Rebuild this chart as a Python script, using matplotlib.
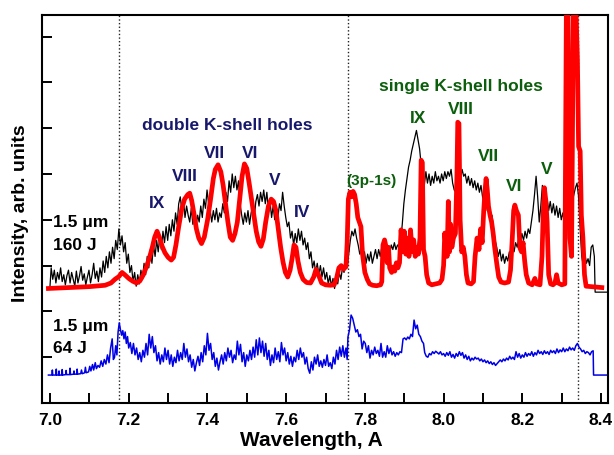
import numpy as np
import matplotlib
matplotlib.use("Agg")
import matplotlib.pyplot as plt
from matplotlib.ticker import MultipleLocator, NullFormatter

plt.rcParams["font.family"] = ["Liberation Sans", "DejaVu Sans"]
plt.rcParams["font.weight"] = "bold"

# ---- data (wavelength in A, intensity in arb. units) ----
# 160 J shot, measured spectrum (thin black)
BLACK_160J = [
    (7.000, 2.55), (7.003, 2.95), (7.007, 2.70), (7.011, 2.90), (7.015, 2.62), (7.019, 2.85),
    (7.023, 2.70), (7.027, 2.95), (7.031, 2.65), (7.035, 2.80), (7.039, 2.58), (7.043, 2.78),
    (7.047, 2.90), (7.051, 2.62), (7.055, 2.85), (7.059, 2.70), (7.063, 2.55), (7.067, 2.88),
    (7.071, 2.62), (7.075, 2.78), (7.079, 2.98), (7.083, 2.68), (7.087, 2.82), (7.091, 2.58),
    (7.095, 2.75), (7.099, 2.90), (7.103, 2.62), (7.107, 2.80), (7.111, 3.05), (7.115, 2.72),
    (7.119, 2.88), (7.123, 2.65), (7.127, 2.95), (7.131, 2.75), (7.135, 3.10), (7.139, 2.85),
    (7.143, 3.20), (7.147, 2.95), (7.151, 3.30), (7.155, 3.05), (7.159, 3.40), (7.163, 3.15),
    (7.167, 3.55), (7.171, 3.35), (7.175, 3.80), (7.179, 3.45), (7.183, 3.65), (7.187, 3.30),
    (7.191, 3.50), (7.195, 3.05), (7.199, 3.25), (7.203, 2.85), (7.207, 3.00), (7.211, 2.65),
    (7.215, 2.85), (7.219, 2.55), (7.223, 2.80), (7.227, 2.60), (7.231, 2.90), (7.235, 2.70),
    (7.239, 3.05), (7.243, 2.80), (7.247, 3.20), (7.251, 2.95), (7.255, 3.35), (7.259, 3.05),
    (7.263, 3.45), (7.267, 3.20), (7.271, 3.55), (7.275, 3.30), (7.279, 3.65), (7.283, 3.35),
    (7.287, 3.75), (7.291, 3.50), (7.295, 3.85), (7.299, 3.55), (7.303, 3.90), (7.307, 3.65),
    (7.311, 4.00), (7.315, 3.75), (7.319, 4.15), (7.323, 3.90), (7.327, 4.35), (7.331, 4.50),
    (7.335, 4.20), (7.339, 4.45), (7.343, 4.05), (7.347, 4.30), (7.351, 4.10), (7.355, 3.95),
    (7.359, 4.25), (7.363, 3.90), (7.367, 4.15), (7.371, 3.85), (7.375, 4.10), (7.379, 3.95),
    (7.383, 4.30), (7.387, 4.05), (7.391, 4.45), (7.395, 4.25), (7.399, 4.65), (7.403, 4.35),
    (7.407, 4.20), (7.411, 3.95), (7.415, 4.20), (7.419, 4.00), (7.423, 4.25), (7.427, 3.95),
    (7.431, 4.15), (7.435, 4.05), (7.439, 4.35), (7.443, 4.15), (7.447, 4.60), (7.451, 4.40),
    (7.455, 4.85), (7.459, 4.60), (7.463, 5.00), (7.467, 4.70), (7.471, 4.95), (7.475, 4.65),
    (7.479, 4.85), (7.483, 4.35), (7.487, 4.10), (7.491, 3.90), (7.495, 4.15), (7.499, 3.95),
    (7.503, 4.20), (7.507, 3.90), (7.511, 4.15), (7.515, 4.30), (7.519, 4.05), (7.523, 4.40),
    (7.527, 4.55), (7.531, 4.30), (7.535, 4.60), (7.539, 4.40), (7.543, 4.65), (7.547, 4.35),
    (7.551, 4.60), (7.555, 4.20), (7.559, 4.40), (7.563, 4.05), (7.567, 4.30), (7.571, 4.00),
    (7.575, 4.25), (7.579, 4.05), (7.583, 4.35), (7.587, 4.20), (7.591, 4.60), (7.595, 4.30),
    (7.599, 4.05), (7.603, 3.85), (7.607, 3.95), (7.611, 3.60), (7.615, 3.75), (7.619, 3.45),
    (7.623, 3.70), (7.627, 3.50), (7.631, 3.80), (7.635, 3.55), (7.639, 3.75), (7.643, 3.45),
    (7.647, 3.60), (7.651, 3.35), (7.655, 3.50), (7.659, 3.15), (7.663, 3.30), (7.667, 2.95),
    (7.671, 3.10), (7.675, 2.85), (7.679, 3.05), (7.683, 2.80), (7.687, 3.00), (7.691, 2.75),
    (7.695, 2.95), (7.699, 2.70), (7.703, 2.85), (7.707, 2.60), (7.711, 2.78), (7.715, 2.55),
    (7.719, 2.72), (7.723, 2.50), (7.727, 2.70), (7.731, 2.60), (7.735, 2.85), (7.739, 2.70),
    (7.743, 2.95), (7.747, 2.85), (7.751, 3.10), (7.755, 2.95), (7.759, 3.25), (7.763, 3.55),
    (7.767, 3.75), (7.771, 3.65), (7.775, 3.80), (7.779, 3.60), (7.783, 3.45), (7.787, 3.25),
    (7.791, 3.35), (7.795, 3.15), (7.799, 3.30), (7.803, 3.05), (7.807, 3.25), (7.811, 3.10),
    (7.815, 3.30), (7.819, 3.05), (7.823, 3.20), (7.827, 3.35), (7.831, 3.15), (7.835, 3.35),
    (7.839, 3.20), (7.843, 3.40), (7.847, 3.25), (7.851, 3.45), (7.855, 3.30), (7.859, 3.40),
    (7.863, 3.25), (7.867, 3.45), (7.871, 3.35), (7.875, 3.50), (7.879, 3.35), (7.883, 3.45),
    (7.887, 3.40), (7.891, 3.55), (7.895, 3.90), (7.899, 4.35), (7.903, 4.65), (7.907, 4.90),
    (7.911, 5.15), (7.915, 5.30), (7.919, 5.50), (7.923, 5.65), (7.927, 5.80), (7.931, 5.95),
    (7.935, 5.75), (7.939, 5.55), (7.943, 5.20), (7.947, 4.85), (7.951, 4.75), (7.955, 5.05),
    (7.959, 4.80), (7.963, 5.00), (7.967, 4.75), (7.971, 4.95), (7.975, 4.80), (7.979, 5.05),
    (7.983, 4.85), (7.987, 4.95), (7.991, 4.80), (7.995, 5.00), (7.999, 4.85), (8.003, 5.05),
    (8.007, 4.90), (8.011, 5.05), (8.015, 4.95), (8.019, 5.10), (8.023, 4.80), (8.027, 4.65),
    (8.031, 4.60), (8.035, 4.85), (8.039, 5.05), (8.043, 4.90), (8.047, 5.10), (8.051, 4.95),
    (8.055, 5.00), (8.059, 4.80), (8.063, 4.95), (8.067, 4.75), (8.071, 4.90), (8.075, 4.70),
    (8.079, 4.85), (8.083, 4.65), (8.087, 4.80), (8.091, 4.60), (8.095, 4.75), (8.099, 4.50),
    (8.103, 4.35), (8.107, 4.45), (8.111, 4.20), (8.115, 4.30), (8.119, 4.05), (8.123, 4.10),
    (8.127, 3.80), (8.131, 3.55), (8.135, 3.40), (8.139, 3.20), (8.143, 3.35), (8.147, 3.10),
    (8.151, 3.25), (8.155, 3.05), (8.159, 3.20), (8.163, 3.10), (8.167, 3.30), (8.171, 3.20),
    (8.175, 3.40), (8.179, 3.30), (8.183, 3.50), (8.187, 3.40), (8.191, 3.60), (8.195, 3.50),
    (8.199, 3.70), (8.203, 3.55), (8.207, 3.75), (8.211, 3.60), (8.215, 3.80), (8.219, 3.70),
    (8.223, 3.95), (8.227, 4.20), (8.231, 4.55), (8.235, 4.95), (8.239, 4.50), (8.243, 3.95),
    (8.247, 4.30), (8.251, 4.75), (8.255, 4.50), (8.259, 4.30), (8.263, 4.45), (8.267, 4.20),
    (8.271, 4.40), (8.275, 4.15), (8.279, 4.35), (8.283, 4.10), (8.287, 4.30), (8.291, 4.05),
    (8.295, 4.25), (8.299, 4.00), (8.303, 4.15), (8.307, 3.95), (8.311, 4.10), (8.315, 3.95),
    (8.319, 4.45), (8.323, 4.55), (8.327, 4.40), (8.331, 4.55), (8.335, 4.70), (8.339, 4.80),
    (8.343, 4.50), (8.347, 3.80), (8.351, 3.20), (8.355, 3.00), (8.359, 3.25), (8.363, 3.05),
    (8.367, 3.15), (8.371, 3.00), (8.375, 3.40), (8.379, 3.45), (8.383, 3.20), (8.385, 2.42),
    (8.418, 2.42),
]

# 160 J shot, simulated spectrum (thick red)
RED_160J = [
    (6.996, 2.50), (7.050, 2.52), (7.100, 2.54), (7.140, 2.57), (7.155, 2.62), (7.165, 2.70),
    (7.175, 2.76), (7.183, 2.85), (7.190, 2.80), (7.200, 2.72), (7.210, 2.66), (7.220, 2.62),
    (7.228, 2.66), (7.236, 2.78), (7.244, 2.95), (7.252, 3.15), (7.260, 3.40), (7.266, 3.62),
    (7.272, 3.75), (7.278, 3.62), (7.285, 3.42), (7.292, 3.28), (7.300, 3.18), (7.308, 3.12),
    (7.314, 3.18), (7.320, 3.45), (7.327, 3.85), (7.335, 4.25), (7.342, 4.45), (7.350, 4.55),
    (7.355, 4.58), (7.360, 4.42), (7.366, 4.12), (7.372, 3.80), (7.378, 3.60), (7.385, 3.48),
    (7.392, 3.62), (7.400, 3.98), (7.408, 4.45), (7.415, 4.90), (7.420, 5.10), (7.427, 5.20),
    (7.434, 5.05), (7.440, 4.75), (7.446, 4.35), (7.452, 3.95), (7.458, 3.62), (7.464, 3.55),
    (7.470, 3.70), (7.476, 3.95), (7.482, 4.45), (7.488, 4.95), (7.494, 5.22), (7.500, 5.12),
    (7.506, 4.80), (7.512, 4.45), (7.518, 4.10), (7.524, 3.75), (7.530, 3.52), (7.536, 3.42),
    (7.542, 3.58), (7.548, 3.95), (7.555, 4.30), (7.562, 4.45), (7.568, 4.40), (7.574, 4.20),
    (7.580, 3.80), (7.586, 3.40), (7.592, 3.08), (7.598, 2.85), (7.604, 2.75), (7.610, 2.90),
    (7.615, 3.15), (7.620, 3.45), (7.625, 3.40), (7.630, 3.10), (7.636, 2.85), (7.643, 2.70),
    (7.652, 2.63), (7.662, 2.62), (7.670, 2.75), (7.676, 2.92), (7.682, 2.80), (7.690, 2.62),
    (7.700, 2.58), (7.712, 2.57), (7.722, 2.58), (7.728, 2.72), (7.734, 2.95), (7.740, 3.00),
    (7.746, 2.92), (7.752, 2.98), (7.755, 3.50), (7.758, 4.45), (7.762, 4.60), (7.766, 4.50),
    (7.770, 4.62), (7.774, 4.55), (7.778, 4.35), (7.782, 4.05), (7.786, 3.95), (7.790, 3.85),
    (7.794, 3.25), (7.800, 2.85), (7.806, 2.70), (7.812, 2.60), (7.820, 2.57), (7.830, 2.56),
    (7.840, 2.58), (7.843, 2.65), (7.846, 3.45), (7.850, 3.56), (7.854, 3.40), (7.857, 3.06),
    (7.860, 3.40), (7.863, 2.95), (7.868, 2.85), (7.872, 2.97), (7.876, 2.88), (7.880, 3.06),
    (7.884, 2.95), (7.888, 3.06), (7.892, 3.78), (7.896, 3.30), (7.900, 3.75), (7.904, 3.25),
    (7.908, 3.60), (7.912, 3.20), (7.916, 3.78), (7.920, 3.30), (7.924, 3.56), (7.928, 3.20),
    (7.932, 3.40), (7.936, 3.25), (7.940, 3.60), (7.943, 5.30), (7.946, 5.25), (7.949, 3.35),
    (7.953, 3.20), (7.957, 2.80), (7.962, 2.62), (7.970, 2.58), (7.980, 2.60), (7.990, 2.62),
    (7.996, 2.70), (8.000, 3.00), (8.003, 3.71), (8.006, 3.40), (8.009, 3.20), (8.012, 4.40),
    (8.015, 3.30), (8.018, 3.90), (8.021, 3.40), (8.025, 3.60), (8.030, 3.70), (8.034, 5.00),
    (8.036, 6.13), (8.039, 6.10), (8.042, 4.00), (8.046, 3.30), (8.050, 3.40), (8.054, 3.20),
    (8.058, 2.80), (8.062, 2.62), (8.070, 2.60), (8.076, 2.65), (8.080, 3.20), (8.085, 3.60),
    (8.090, 3.35), (8.094, 3.80), (8.098, 3.50), (8.102, 4.20), (8.105, 4.60), (8.108, 4.90),
    (8.111, 4.65), (8.114, 4.30), (8.118, 4.10), (8.122, 3.95), (8.126, 3.70), (8.130, 3.38),
    (8.135, 3.05), (8.140, 2.75), (8.146, 2.64), (8.155, 2.62), (8.165, 2.64), (8.170, 2.90),
    (8.174, 3.51), (8.178, 4.20), (8.181, 4.32), (8.185, 4.20), (8.190, 4.10), (8.194, 3.38),
    (8.198, 3.30), (8.202, 3.50), (8.206, 3.10), (8.210, 2.80), (8.216, 2.62), (8.225, 2.58),
    (8.232, 2.72), (8.236, 2.60), (8.245, 2.58), (8.250, 3.20), (8.253, 4.10), (8.256, 4.70),
    (8.260, 4.40), (8.263, 3.95), (8.267, 2.80), (8.272, 2.60), (8.278, 2.58), (8.283, 2.62),
    (8.287, 2.80), (8.291, 2.62), (8.300, 2.58), (8.308, 2.60), (8.312, 8.70), (8.316, 8.70),
    (8.321, 3.60), (8.325, 3.20), (8.330, 8.70), (8.336, 8.70), (8.340, 7.50), (8.343, 5.60),
    (8.347, 5.50), (8.350, 4.10), (8.354, 3.60), (8.358, 2.80), (8.362, 2.55), (8.402, 2.52),
]

# 64 J shot, measured spectrum (blue)
BLUE_64J = [
    (6.996, 0.61), (7.005, 0.61), (7.006, 0.72), (7.007, 0.61), (7.015, 0.61), (7.016, 0.74),
    (7.017, 0.61), (7.022, 0.61), (7.023, 0.70), (7.024, 0.61), (7.030, 0.61), (7.031, 0.73),
    (7.032, 0.61), (7.040, 0.62), (7.041, 0.71), (7.042, 0.62), (7.050, 0.62), (7.051, 0.76),
    (7.052, 0.62), (7.060, 0.63), (7.061, 0.70), (7.062, 0.63), (7.068, 0.63), (7.069, 0.74),
    (7.070, 0.63), (7.078, 0.64), (7.080, 0.72), (7.082, 0.64), (7.088, 0.66), (7.090, 0.78),
    (7.092, 0.66), (7.098, 0.68), (7.101, 0.80), (7.104, 0.70), (7.108, 0.84), (7.111, 0.72),
    (7.115, 0.88), (7.118, 0.75), (7.122, 0.82), (7.126, 0.78), (7.130, 0.92), (7.134, 0.80),
    (7.138, 0.95), (7.142, 0.85), (7.146, 1.05), (7.150, 0.88), (7.154, 1.20), (7.158, 1.40),
    (7.161, 0.95), (7.164, 1.00), (7.167, 1.25), (7.170, 1.05), (7.173, 1.55), (7.176, 1.75),
    (7.179, 1.60), (7.182, 1.48), (7.185, 1.58), (7.188, 1.40), (7.191, 1.55), (7.194, 1.30),
    (7.197, 1.45), (7.200, 1.20), (7.204, 1.32), (7.208, 1.08), (7.212, 1.30), (7.216, 1.05),
    (7.220, 1.20), (7.224, 0.95), (7.228, 1.10), (7.232, 0.90), (7.236, 1.15), (7.240, 1.00),
    (7.244, 1.30), (7.248, 1.05), (7.252, 1.50), (7.256, 1.20), (7.260, 1.45), (7.264, 1.10),
    (7.268, 1.25), (7.272, 0.92), (7.276, 1.10), (7.280, 0.85), (7.284, 1.05), (7.288, 0.90),
    (7.292, 1.20), (7.296, 0.95), (7.300, 1.15), (7.304, 0.85), (7.308, 1.05), (7.312, 0.80),
    (7.316, 1.00), (7.320, 0.88), (7.324, 1.15), (7.328, 0.92), (7.332, 1.10), (7.336, 0.95),
    (7.340, 1.30), (7.344, 1.00), (7.348, 1.18), (7.352, 0.90), (7.356, 1.05), (7.360, 0.78),
    (7.364, 0.95), (7.368, 0.70), (7.372, 0.88), (7.376, 1.02), (7.380, 0.82), (7.384, 1.10),
    (7.388, 0.90), (7.392, 1.25), (7.396, 1.05), (7.400, 1.52), (7.404, 1.15), (7.408, 1.30),
    (7.412, 0.95), (7.416, 1.10), (7.420, 0.80), (7.424, 0.98), (7.428, 0.72), (7.432, 0.90),
    (7.436, 1.05), (7.440, 0.85), (7.444, 1.10), (7.448, 0.92), (7.452, 1.20), (7.456, 1.00),
    (7.460, 1.15), (7.464, 0.88), (7.468, 1.05), (7.472, 0.95), (7.476, 1.35), (7.480, 1.05),
    (7.484, 1.28), (7.488, 0.90), (7.492, 1.10), (7.496, 0.80), (7.500, 1.05), (7.504, 0.92),
    (7.508, 1.15), (7.512, 0.95), (7.516, 1.22), (7.520, 1.00), (7.524, 1.38), (7.528, 1.05),
    (7.532, 1.42), (7.536, 1.10), (7.540, 1.35), (7.544, 1.02), (7.548, 1.30), (7.552, 0.95),
    (7.556, 1.15), (7.560, 0.82), (7.564, 1.05), (7.568, 0.88), (7.572, 1.20), (7.576, 0.95),
    (7.580, 1.12), (7.584, 0.90), (7.588, 1.32), (7.592, 1.05), (7.596, 1.20), (7.600, 0.92),
    (7.604, 1.10), (7.608, 0.85), (7.612, 1.02), (7.616, 0.80), (7.620, 1.00), (7.624, 0.90),
    (7.628, 1.15), (7.632, 0.95), (7.636, 1.20), (7.640, 1.00), (7.644, 1.10), (7.648, 0.85),
    (7.652, 1.00), (7.656, 0.75), (7.660, 0.65), (7.664, 0.90), (7.668, 0.72), (7.672, 1.00),
    (7.676, 0.85), (7.680, 1.05), (7.684, 0.80), (7.688, 0.92), (7.692, 0.78), (7.696, 0.95),
    (7.700, 0.82), (7.704, 1.05), (7.708, 0.80), (7.712, 0.88), (7.716, 0.75), (7.720, 1.00),
    (7.724, 0.85), (7.728, 1.15), (7.732, 0.95), (7.736, 1.22), (7.740, 1.02), (7.744, 1.25),
    (7.748, 1.00), (7.752, 1.20), (7.755, 0.95), (7.757, 1.44), (7.761, 1.60), (7.765, 1.92),
    (7.769, 1.85), (7.773, 1.70), (7.777, 1.55), (7.781, 1.60), (7.785, 1.45), (7.789, 1.50),
    (7.793, 1.18), (7.797, 1.35), (7.801, 1.30), (7.805, 1.10), (7.809, 1.25), (7.813, 0.98),
    (7.817, 1.15), (7.821, 1.05), (7.825, 1.22), (7.829, 1.08), (7.833, 1.15), (7.837, 1.02),
    (7.841, 1.30), (7.845, 1.00), (7.849, 1.12), (7.853, 1.00), (7.857, 1.25), (7.861, 1.08),
    (7.865, 1.20), (7.869, 1.05), (7.873, 1.12), (7.877, 1.02), (7.881, 1.10), (7.885, 1.05),
    (7.889, 1.12), (7.893, 1.10), (7.897, 1.40), (7.901, 1.42), (7.905, 1.38), (7.909, 1.44),
    (7.913, 1.40), (7.917, 1.50), (7.921, 1.45), (7.925, 1.81), (7.929, 1.62), (7.933, 1.70),
    (7.937, 1.50), (7.941, 1.45), (7.945, 1.35), (7.949, 1.30), (7.952, 1.10), (7.956, 1.02),
    (7.960, 1.00), (7.964, 1.08), (7.968, 1.05), (7.972, 1.12), (7.976, 1.08), (7.980, 1.13),
    (7.984, 1.10), (7.988, 1.07), (7.992, 1.12), (7.996, 1.05), (8.000, 1.08), (8.004, 1.02),
    (8.008, 1.10), (8.012, 1.04), (8.016, 1.12), (8.020, 1.00), (8.024, 1.06), (8.028, 0.98),
    (8.032, 1.08), (8.036, 1.02), (8.040, 1.12), (8.044, 1.04), (8.048, 1.10), (8.052, 0.98),
    (8.056, 1.05), (8.060, 0.95), (8.064, 1.02), (8.068, 0.92), (8.072, 0.98), (8.076, 0.94),
    (8.080, 1.00), (8.084, 0.96), (8.088, 0.98), (8.092, 0.92), (8.096, 0.96), (8.100, 0.90),
    (8.104, 0.94), (8.108, 0.88), (8.112, 0.92), (8.116, 0.86), (8.120, 0.90), (8.124, 0.84),
    (8.128, 0.88), (8.132, 0.82), (8.136, 0.86), (8.140, 0.90), (8.144, 0.94), (8.148, 0.90),
    (8.152, 0.96), (8.156, 0.92), (8.160, 0.98), (8.164, 0.94), (8.168, 1.02), (8.172, 0.96),
    (8.176, 1.00), (8.180, 0.95), (8.184, 1.12), (8.188, 1.00), (8.192, 1.08), (8.196, 0.98),
    (8.200, 1.05), (8.204, 1.00), (8.208, 1.10), (8.212, 1.02), (8.216, 1.08), (8.220, 1.04),
    (8.224, 1.12), (8.228, 1.02), (8.232, 1.10), (8.236, 1.05), (8.240, 1.15), (8.244, 1.08),
    (8.248, 1.12), (8.252, 1.06), (8.256, 1.14), (8.260, 1.08), (8.264, 1.12), (8.268, 1.06),
    (8.272, 1.15), (8.276, 1.10), (8.280, 1.14), (8.284, 1.08), (8.288, 1.18), (8.292, 1.10),
    (8.296, 1.16), (8.300, 1.12), (8.304, 1.20), (8.308, 1.12), (8.312, 1.18), (8.316, 1.14),
    (8.320, 1.22), (8.324, 1.16), (8.328, 1.20), (8.332, 1.15), (8.336, 1.25), (8.340, 1.30),
    (8.344, 1.22), (8.348, 1.18), (8.352, 1.12), (8.356, 1.15), (8.360, 1.08), (8.364, 1.12),
    (8.368, 1.10), (8.372, 1.05), (8.376, 1.12), (8.380, 1.14), (8.381, 0.61), (8.418, 0.61),
]

MARKERS = [7.175, 7.757, 8.342]   # dotted reference lines

# transition labels: (text, x, baseline y)
DOUBLE_LABELS = [("IX", 7.272, 4.26), ("VIII", 7.343, 4.85), ("VII", 7.419, 5.35),
                 ("VI", 7.508, 5.35), ("V", 7.572, 4.76), ("IV", 7.640, 4.06)]
SINGLE_LABELS = [("IX", 7.935, 6.11), ("VIII", 8.044, 6.31), ("VII", 8.115, 5.28),
                 ("VI", 8.179, 4.63), ("V", 8.263, 5.00), ("(3p-1s)", 7.816, 4.76)]
SHOT_LABELS = [("1.5 \u03bcm", 3.84), ("160 J", 3.34), ("1.5 \u03bcm", 1.57), ("64 J", 1.09)]

NAVY = "#17176b"
GREEN = "#0b5e0b"

# ---- figure ----------------------------------------------------------------
fig = plt.figure(figsize=(6.14, 4.55), dpi=100)
ax = fig.add_axes([42 / 614, 52 / 455, 566 / 614, 388 / 455])

for xm in MARKERS:
    ax.axvline(xm, color="#222222", lw=1.0, ls=(0, (1, 1.6)), zorder=1)

bx, by = zip(*BLACK_160J)
ax.plot(bx, by, color="black", lw=0.9, zorder=2)
rx, ry = zip(*RED_160J)
ax.plot(rx, ry, color="#ff0000", lw=3.4, zorder=3, solid_joinstyle="round")
ux, uy = zip(*BLUE_64J)
ax.plot(ux, uy, color="#0000e6", lw=1.1, zorder=2)

ax.set_xlim(6.9797, 8.4177)
ax.set_ylim(0, 8.47)
ax.xaxis.set_major_locator(MultipleLocator(0.2))
ax.xaxis.set_minor_locator(MultipleLocator(0.1))
ax.xaxis.set_major_formatter(matplotlib.ticker.FormatStrFormatter("%.1f"))
ax.yaxis.set_major_locator(MultipleLocator(1))
ax.yaxis.set_major_formatter(NullFormatter())
ax.tick_params(which="both", direction="in", length=7, width=1.4, labelsize=12.5, pad=7)
for s in ax.spines.values():
    s.set_linewidth(1.5)

for t, y in SHOT_LABELS:
    ax.text(7.008, y, t, fontsize=12.5, fontweight="bold", va="baseline", ha="left", zorder=5)

ax.text(7.4497, 5.96, "double K-shell holes", color=NAVY, fontsize=12.5,
        fontweight="bold", ha="center", va="baseline")
for t, x, y in DOUBLE_LABELS:
    ax.text(x, y, t, color=NAVY, fontsize=12.5, fontweight="bold", ha="center", va="baseline")

ax.text(8.044, 6.81, "single K-shell holes", color=GREEN, fontsize=12.5,
        fontweight="bold", ha="center", va="baseline")
for t, x, y in SINGLE_LABELS:
    fs = 11 if t.startswith("(") else 12.5
    ax.text(x, y, t, color=GREEN, fontsize=fs, fontweight="bold", ha="center", va="baseline")

fig.text(311 / 614, 9 / 455, "Wavelength, A", fontsize=15, fontweight="bold",
         ha="center", va="baseline")
fig.text(21 / 614, 1 - 213 / 455, "Intensity, arb. units", fontsize=14, fontweight="bold",
         ha="center", va="center", rotation=90)

fig.savefig("out.png", dpi=100)
